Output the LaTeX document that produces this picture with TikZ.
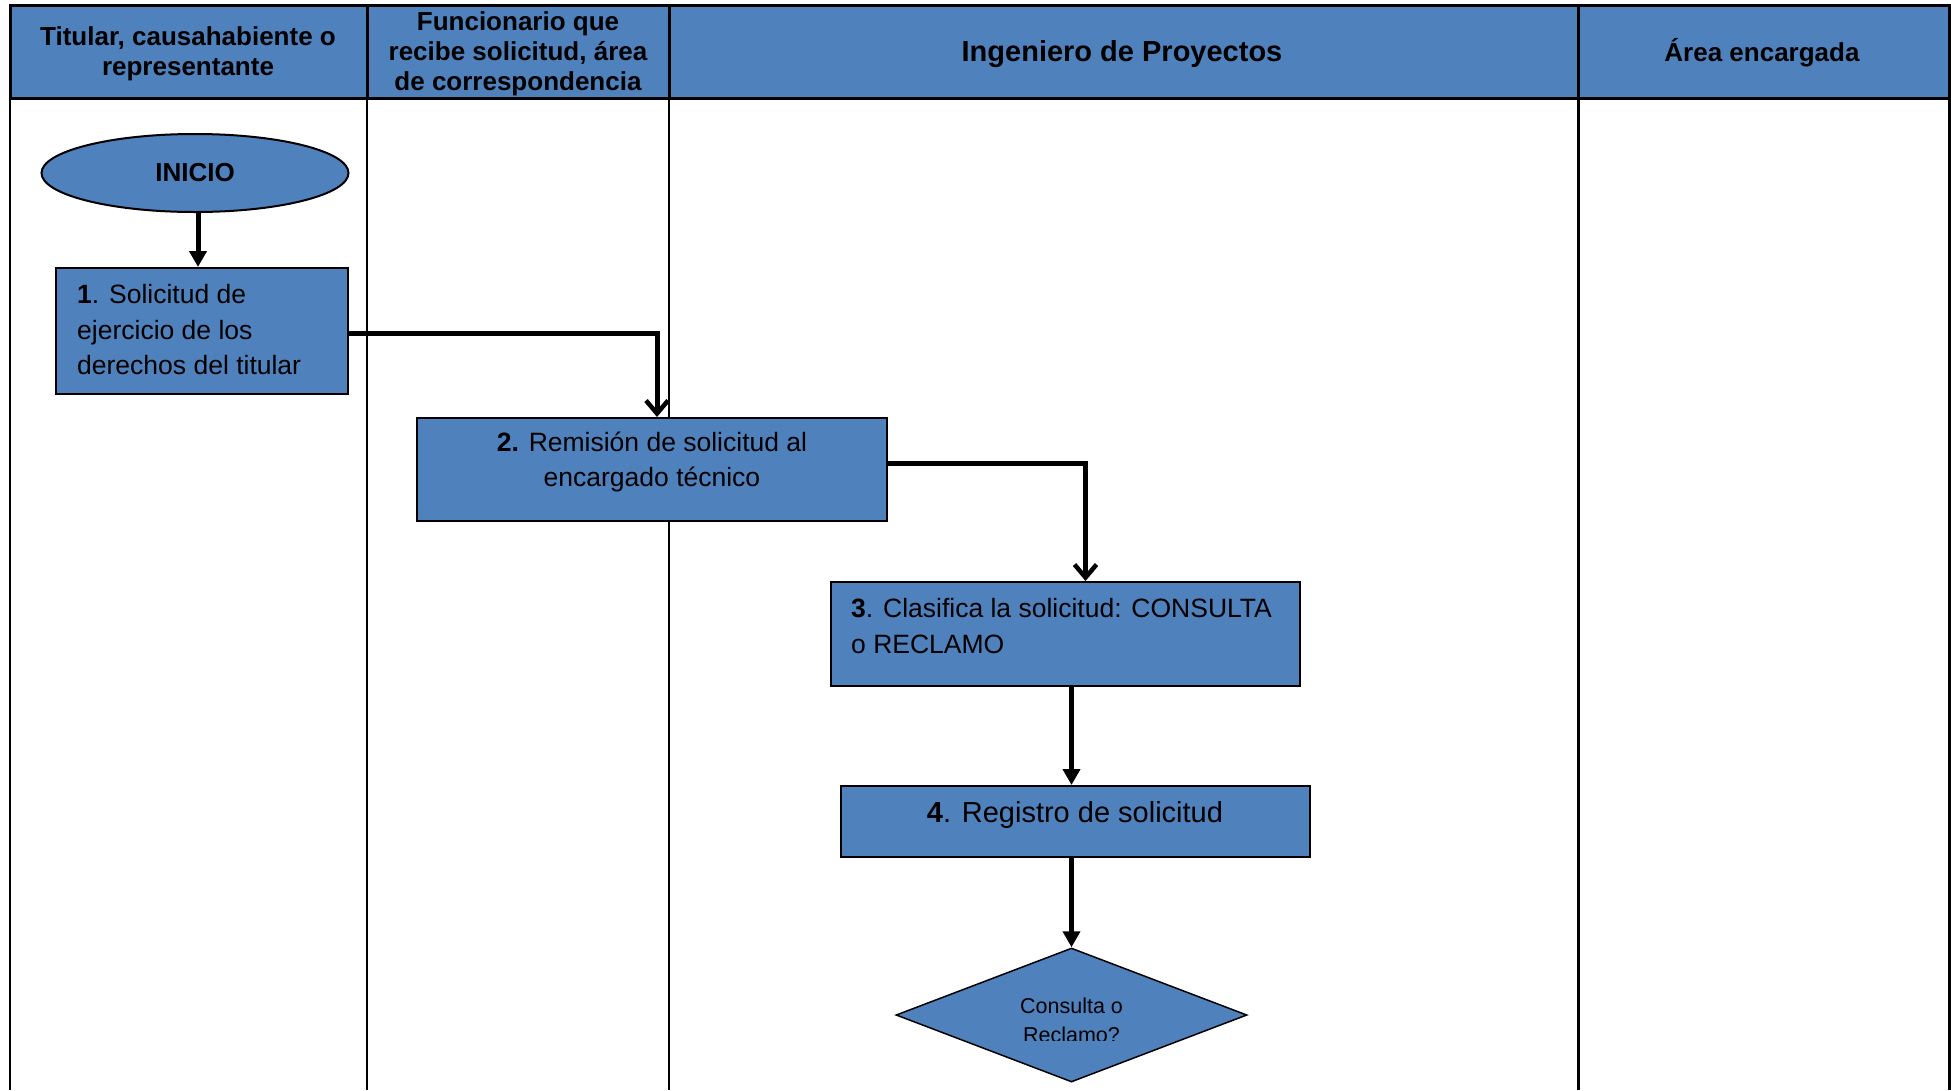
\documentclass[tikz,border=0pt]{standalone}
\usepackage{fontspec}
\setmainfont{Liberation Sans}
\usetikzlibrary{shapes.geometric,arrows.meta}
\definecolor{ofblue}{HTML}{4F81BD}
\begin{document}
\begin{tikzpicture}[x=1pt,y=-1pt,
  hdr/.style={font=\fontsize{26}{30}\selectfont\bfseries, align=center, inner sep=0pt},
  boxshape/.style={draw=black, line width=2pt, fill=ofblue, inner sep=0pt, rectangle},
  txt/.style={font=\fontsize{26.5}{35.5}\selectfont, inner sep=0pt},
  filledarr/.style={line width=5pt, -{Triangle[length=16pt,width=17pt]}},
  barbarr/.style={line width=5pt, -{Straight Barb[length=13pt,width=22pt,line width=4.5pt]}},
  lane/.style={line width=1.5pt},
  lanethick/.style={line width=3pt}]
\useasboundingbox (0,0) rectangle (1951,1090);
% header
\fill[ofblue] (10,5) rectangle (1949,98);
\draw[lanethick] (10,5) rectangle (1949,98);
\draw[lanethick] (367,5) -- (367,98) (669,5) -- (669,98) (1578,5) -- (1578,98);
% lanes
\draw[line width=2pt] (10,98) -- (10,1090);
\draw[lane] (367,98) -- (367,1090);
\draw[lane] (669,98) -- (669,1090);
\draw[lanethick] (1578,98) -- (1578,1090);
\draw[lanethick] (1949,98) -- (1949,1090);
\node[hdr] (h1) at (188,54) {Titular, causahabiente o\\representante};
\node[hdr] (h2) at (518,54) {Funcionario que\\recibe solicitud, área\\de correspondencia};
\node[hdr, font=\fontsize{29}{33}\selectfont\bfseries] (h3) at (1122,54) {Ingeniero de Proyectos};
\node[hdr] (h4) at (1762,53) {Área encargada};
% shapes
\node[ellipse, draw=black, line width=2pt, fill=ofblue, minimum width=307pt, minimum height=78pt, inner sep=0pt,
      font=\fontsize{26}{30}\selectfont\bfseries] (ini) at (195,173) {INICIO};
\node[boxshape, minimum width=292pt, minimum height=126pt] (b1) at (202,331) {};
\node[txt, anchor=west, align=left] (t1) at (77,330) {\textbf{1}. Solicitud de\\ejercicio de los\\derechos del titular};
\node[boxshape, minimum width=470pt, minimum height=103pt] (b2) at (652,469.5) {};
\node[txt, align=center] (t2) at (652,462) {\textbf{2.} Remisión de solicitud al\\encargado técnico};
\node[boxshape, minimum width=469pt, minimum height=104pt] (b3) at (1065.5,634) {};
\node[txt, anchor=west, align=left] (t3) at (851,626) {\textbf{3}. Clasifica la solicitud: CONSULTA\\o RECLAMO};
\node[boxshape, minimum width=469pt, minimum height=71pt] (b4) at (1075.5,821.5) {};
\node[txt, font=\fontsize{29}{33}\selectfont] (t4) at (1075,815) {\textbf{4}. Registro de solicitud};
\node[diamond, draw=black, line width=1.5pt, fill=ofblue, minimum width=351pt, minimum height=134pt, inner sep=0pt] (dia) at (1071.5,1015) {};
\begin{scope}
  \clip (896,948) rectangle (1247,1040);
  \node[inner sep=0pt, align=center, font=\fontsize{21.5}{29}\selectfont] (td) at (1071.5,1020) {Consulta o\\Reclamo?};
\end{scope}
% connectors
\draw[filledarr] ([xshift=3pt]ini.south) -- ([xshift=3pt]ini.south |- b1.north);
\draw[barbarr] ([yshift=-2pt]b1.east) -| ([xshift=5pt]b2.north);
\draw[barbarr] ([yshift=6pt]b2.east) -| ([xshift=20pt]b3.north);
\draw[filledarr] (b3.south -| dia.north) -- (b4.north -| dia.north);
\draw[filledarr] (b4.south -| dia.north) -- (dia.north);
\end{tikzpicture}
\end{document}
